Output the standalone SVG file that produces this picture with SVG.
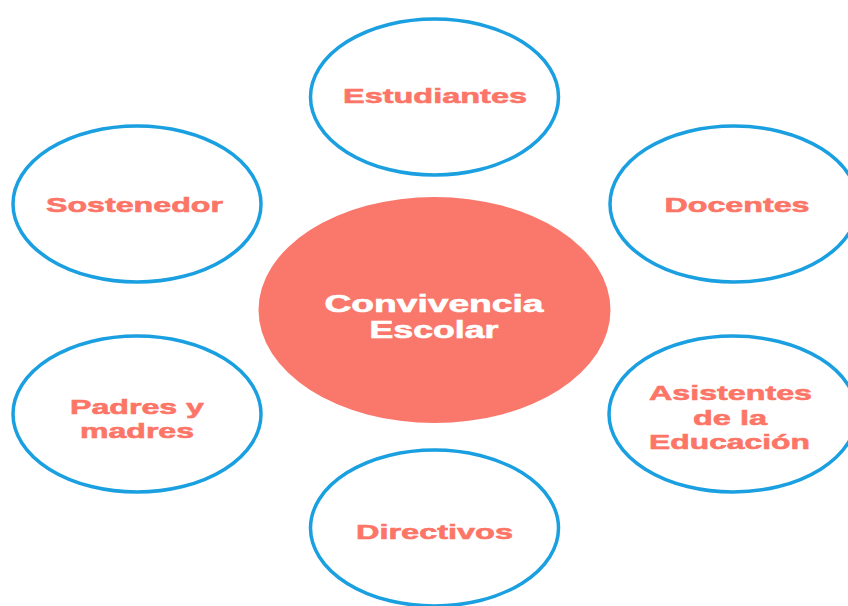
<svg xmlns="http://www.w3.org/2000/svg" width="848" height="606" viewBox="0 0 848 606">
<style>
.node{fill:#ffffff;stroke:#1a9fe0;stroke-width:3.5}
.center{fill:#fa786b}
.lbl{font-family:"Liberation Sans",Arial,sans-serif;font-weight:bold;font-size:21px;fill:#fc7567;stroke:#fc7567;stroke-width:0.6;text-anchor:middle}
.clbl{font-family:"Liberation Sans",Arial,sans-serif;font-weight:bold;font-size:23px;fill:#ffffff;stroke:#ffffff;stroke-width:0.6;text-anchor:middle}
</style>
<rect width="848" height="606" fill="#ffffff"/>
<g id="connectors"></g>
<g id="center-node">
<ellipse class="center" cx="434.5" cy="310" rx="176" ry="113"/>
<text class="clbl" x="434" y="312" textLength="219" lengthAdjust="spacingAndGlyphs">Convivencia</text>
<text class="clbl" x="434" y="338" textLength="129" lengthAdjust="spacingAndGlyphs">Escolar</text>
</g>
<g id="estudiantes">
<ellipse class="node" cx="434.5" cy="97" rx="124" ry="78"/>
<text class="lbl" x="435" y="103" textLength="184" lengthAdjust="spacingAndGlyphs">Estudiantes</text>
</g>
<g id="docentes">
<ellipse class="node" cx="734" cy="204" rx="124" ry="78"/>
<text class="lbl" x="737" y="212" textLength="145" lengthAdjust="spacingAndGlyphs">Docentes</text>
</g>
<g id="sostenedor">
<ellipse class="node" cx="137" cy="204" rx="124" ry="78"/>
<text class="lbl" x="134.5" y="212" textLength="177" lengthAdjust="spacingAndGlyphs">Sostenedor</text>
</g>
<g id="padres">
<ellipse class="node" cx="137" cy="414" rx="124" ry="78"/>
<text class="lbl" x="137" y="414" textLength="134" lengthAdjust="spacingAndGlyphs">Padres y</text>
<text class="lbl" x="137" y="438" textLength="114" lengthAdjust="spacingAndGlyphs">madres</text>
</g>
<g id="asistentes">
<ellipse class="node" cx="733" cy="414" rx="124" ry="78"/>
<text class="lbl" x="730.5" y="400" textLength="163" lengthAdjust="spacingAndGlyphs">Asistentes</text>
<text class="lbl" x="730" y="425" textLength="74" lengthAdjust="spacingAndGlyphs">de la</text>
<text class="lbl" x="729.5" y="449" textLength="161" lengthAdjust="spacingAndGlyphs">Educación</text>
</g>
<g id="directivos">
<ellipse class="node" cx="434.5" cy="528" rx="124" ry="78"/>
<text class="lbl" x="434.5" y="539" textLength="157" lengthAdjust="spacingAndGlyphs">Directivos</text>
</g>
</svg>
